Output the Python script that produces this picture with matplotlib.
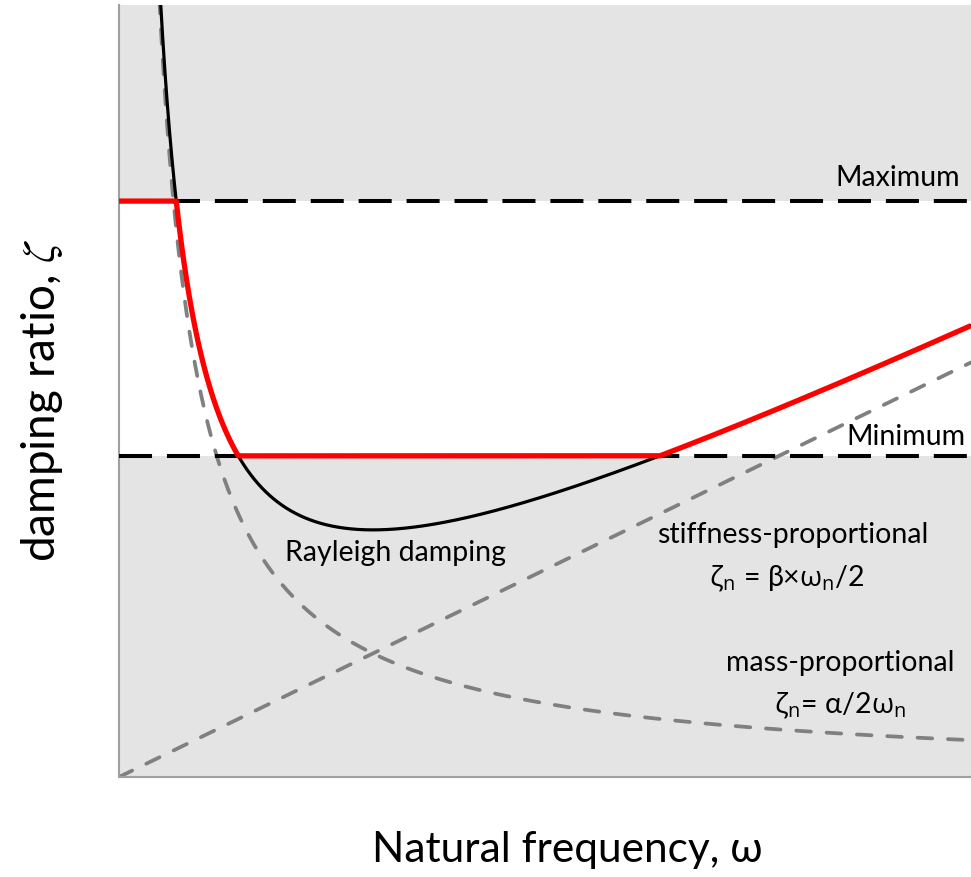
import numpy as np
import matplotlib
matplotlib.use("Agg")
import matplotlib.pyplot as plt

# ---- data ----
alpha = 9.54         # mass-proportional coefficient
beta = 1.074         # stiffness-proportional coefficient
zeta_max = 7.46      # Maximum damping level
zeta_min = 4.16      # Minimum damping level
omega_range = [0.0, 10.0]
zeta_range = [0.0, 10.0]

plt.rcParams['font.family'] = ['Lato', 'DejaVu Sans']
plt.rcParams['mathtext.fontset'] = 'custom'
plt.rcParams['mathtext.rm'] = 'Open Sans'
plt.rcParams['mathtext.it'] = 'Open Sans'

W, H = 971, 877
fig = plt.figure(figsize=(W / 100, H / 100), dpi=100)
ax = fig.add_axes([119 / W, (H - 777) / H, (971 - 119) / W, (777 - 5) / H])

omega = np.linspace(0.02, omega_range[1], 3000)
z_mass = alpha / (2 * omega)
z_stiff = beta * omega / 2
z_ray = z_mass + z_stiff
z_clip = np.clip(z_ray, zeta_min, zeta_max)

shade = '#e4e4e4'
ax.axhspan(zeta_max, zeta_range[1], color=shade, lw=0, zorder=0)
ax.axhspan(zeta_range[0], zeta_min, color=shade, lw=0, zorder=0)

gkw = dict(color='#808080', lw=2.7, ls=(0, (3.9, 4.2)), dash_capstyle='round', zorder=2)
ax.plot(omega, z_mass, **gkw)
ax.plot(np.r_[0, omega], np.r_[0, z_stiff], **gkw)
bkw = dict(color='black', lw=2.9, ls=(0, (8.2, 3.7)), zorder=3)
ax.axhline(zeta_max, **bkw)
ax.axhline(zeta_min, **bkw)
ax.plot(omega, z_ray, color='black', lw=2.3, zorder=4)
ax.plot(np.r_[0, omega], np.r_[zeta_max, z_clip], color='#ff0000', lw=3.8, zorder=5,
        solid_capstyle='butt')

ax.set_xlim(*omega_range)
ax.set_ylim(*zeta_range)
ax.set_xticks([])
ax.set_yticks([])
for s in ['top', 'right']:
    ax.spines[s].set_visible(False)
for s in ['left', 'bottom']:
    ax.spines[s].set_color('#a0a0a0')
    ax.spines[s].set_linewidth(1.5)

fs = 20.5
ax.text(9.87, 7.76, 'Maximum', ha='right', va='center', fontsize=fs)
ax.text(9.93, 4.40, 'Minimum', ha='right', va='center', fontsize=fs)
ax.text(3.24, 2.90, 'Rayleigh damping', ha='center', va='center', fontsize=fs)
ax.text(7.91, 3.13, 'stiffness-proportional', ha='center', va='center', fontsize=fs)
ax.text(7.84, 2.58, r'$\mathrm{ζ}_\mathrm{n}$ = β×$\mathrm{ω}_\mathrm{n}$/2',
        ha='center', va='center', fontsize=fs)
ax.text(8.46, 1.48, 'mass-proportional', ha='center', va='center', fontsize=fs)
ax.text(8.46, 0.93, r'$\mathrm{ζ}_\mathrm{n}$= α/2$\mathrm{ω}_\mathrm{n}$',
        ha='center', va='center', fontsize=fs)

fig.text(567 / W, 1 - 850 / H, 'Natural frequency, ω', ha='center', va='center', fontsize=30.5)
fig.text(42 / W, 1 - 400 / H, r'damping ratio, $\zeta$', ha='center', va='center',
         fontsize=33, rotation=90, math_fontfamily='stix')

fig.savefig('out.png', dpi=100)
